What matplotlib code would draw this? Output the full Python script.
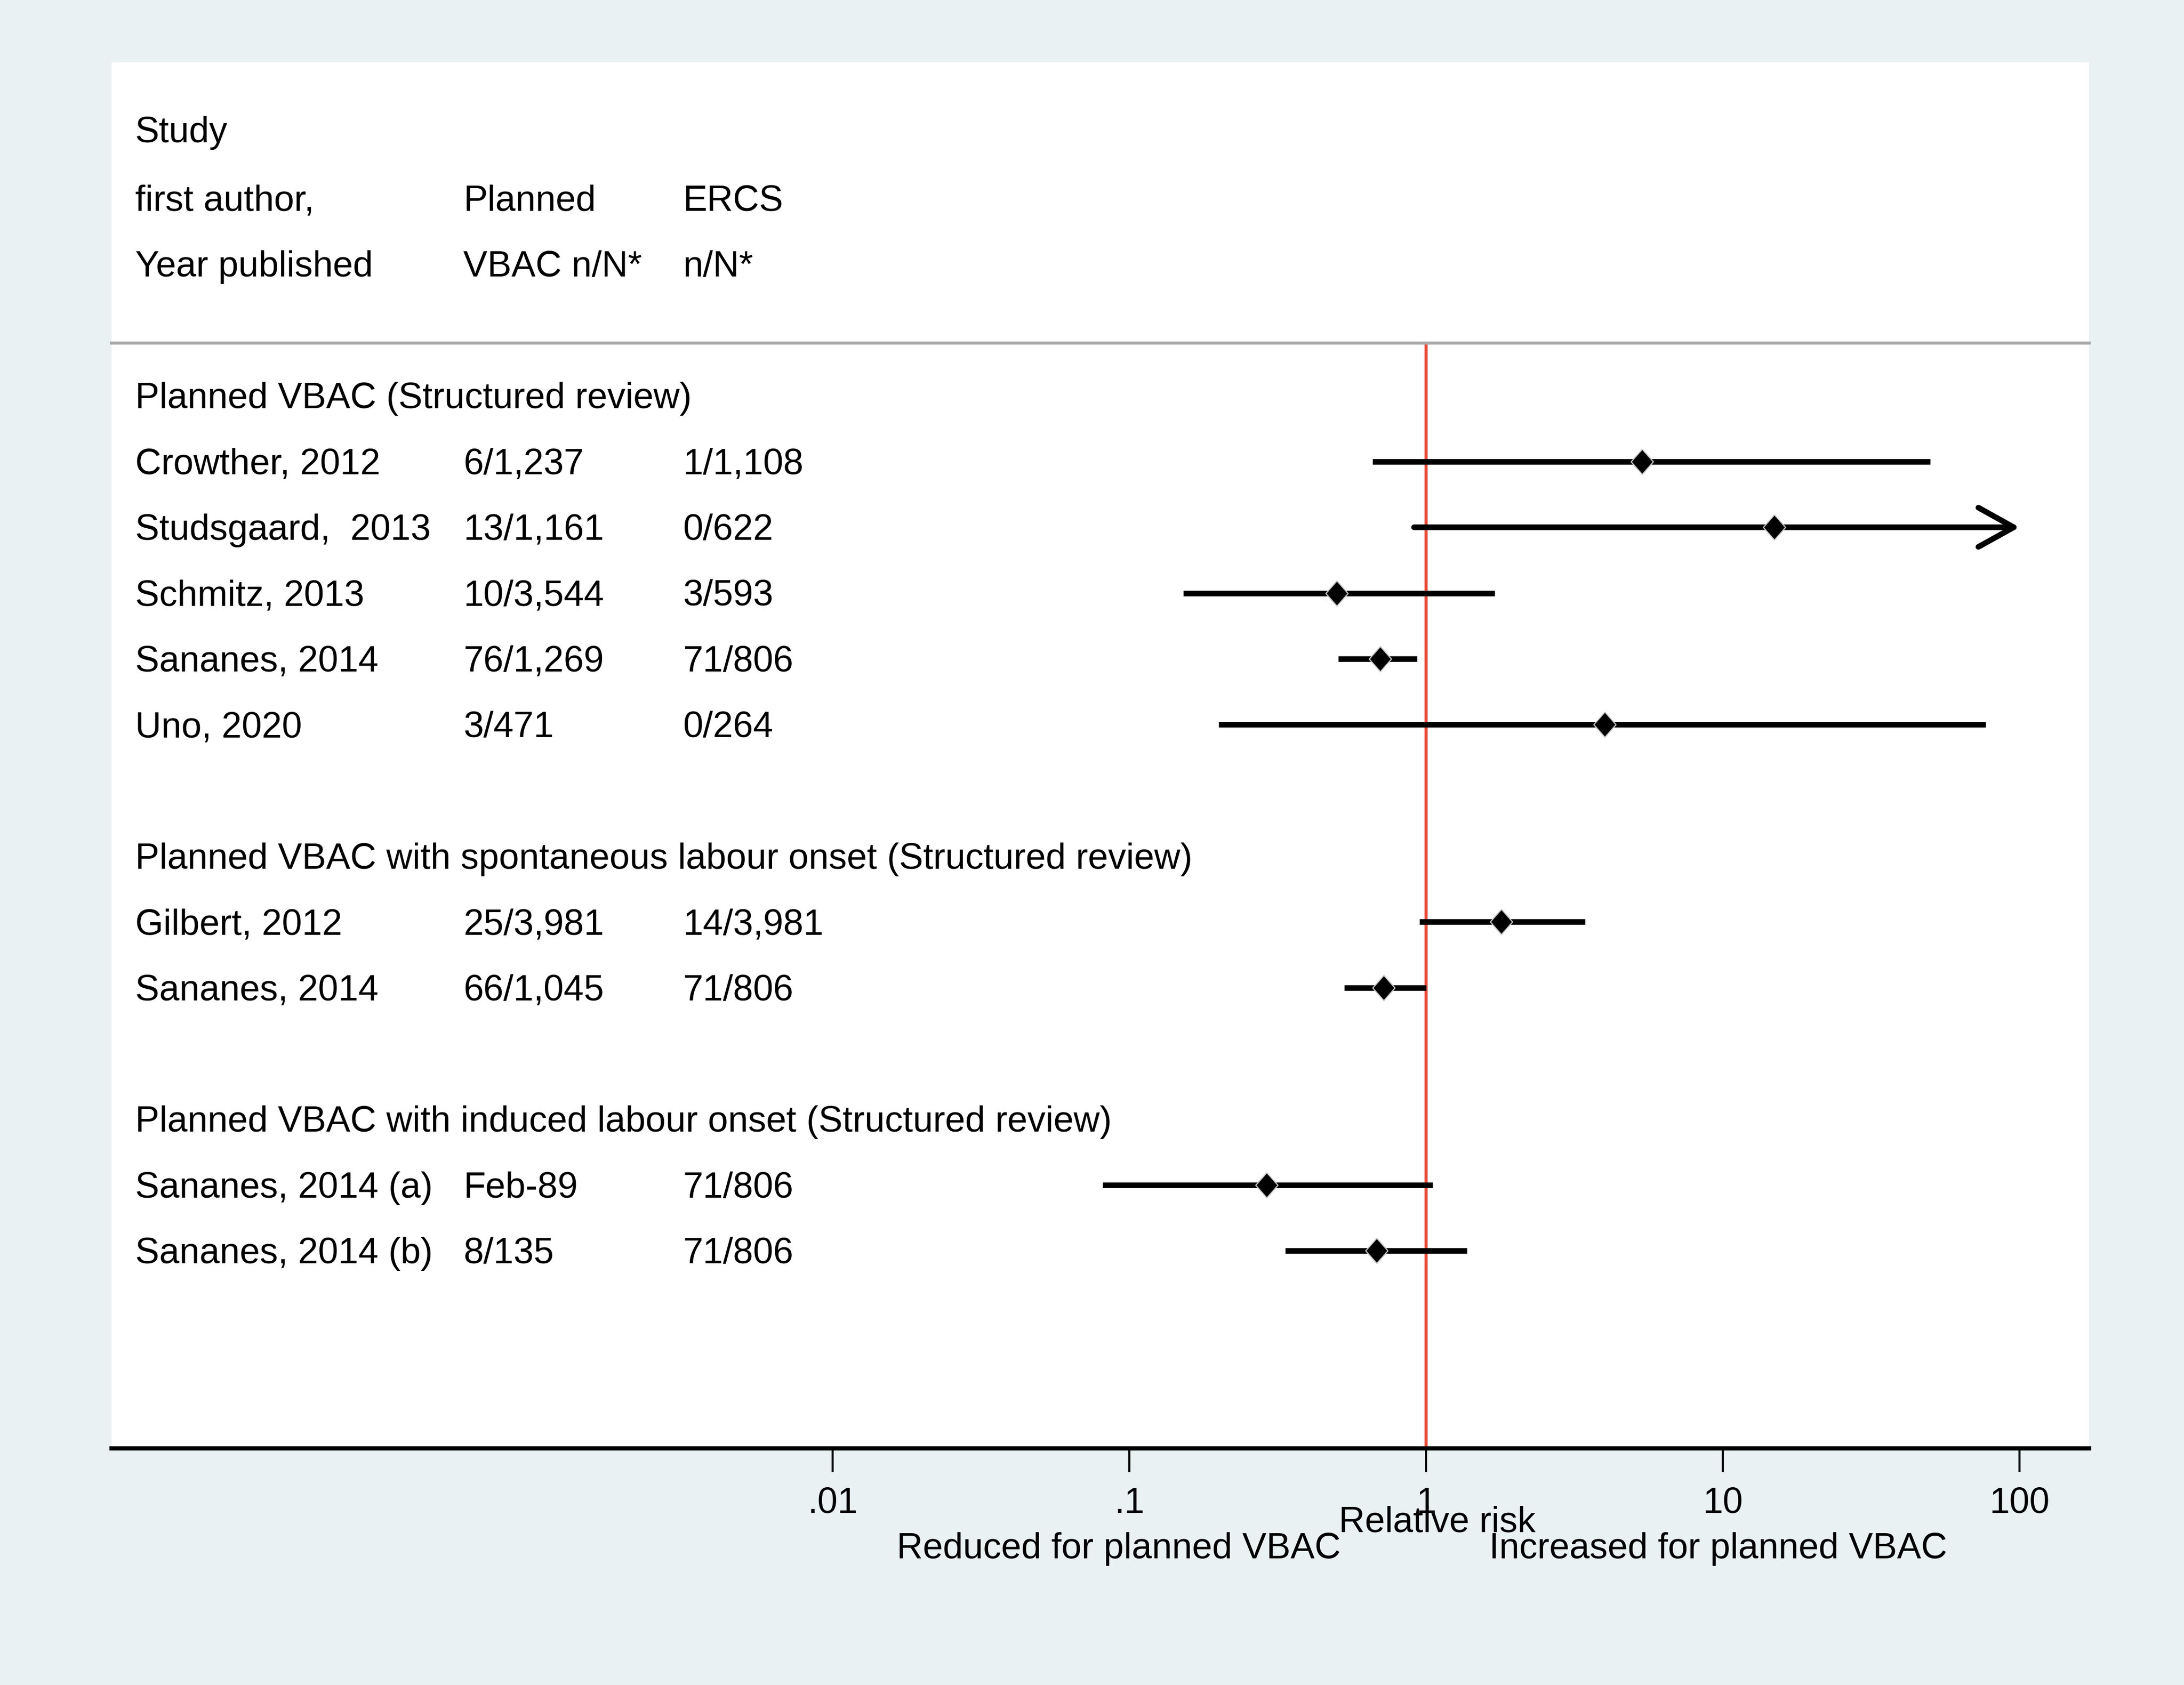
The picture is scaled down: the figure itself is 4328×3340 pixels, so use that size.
import matplotlib
matplotlib.use("Agg")
import matplotlib.pyplot as plt
import matplotlib.transforms as mtransforms

plt.rcParams['font.family'] = ['Liberation Sans', 'DejaVu Sans']

# study rows: label, planned VBAC n/N, ERCS n/N, RR, lower, upper
groups = [
    "Planned VBAC (Structured review)",
    "Planned VBAC with spontaneous labour onset (Structured review)",
    "Planned VBAC with induced labour onset (Structured review)",
]
group_of_study = [0, 0, 0, 0, 0, 1, 1, 2, 2]
studies = ["Crowther, 2012", "Studsgaard,  2013", "Schmitz, 2013", "Sananes, 2014",
           "Uno, 2020", "Gilbert, 2012", "Sananes, 2014", "Sananes, 2014 (a)",
           "Sananes, 2014 (b)"]
vbac = ["6/1,237", "13/1,161", "10/3,544", "76/1,269", "3/471",
        "25/3,981", "66/1,045", "Feb-89", "8/135"]
ercs = ["1/1,108", "0/622", "3/593", "71/806", "0/264",
        "14/3,981", "71/806", "71/806", "71/806"]
rr = [5.34, 14.9, 0.50, 0.70, 3.99, 1.79, 0.72, 0.29, 0.68]
lo = [0.66, 0.91, 0.152, 0.506, 0.20, 0.95, 0.53, 0.081, 0.335]
hi = [50.0, 250.0, 1.70, 0.93, 77.0, 3.43, 1.0, 1.05, 1.37]

ticks = [0.01, 0.1, 1, 10, 100]
tick_labels = [".01", ".1", "1", "10", "100"]

FS = 25.8
XMIN, XMAX = 10 ** -4.432, 10 ** 2.235

fig = plt.figure(figsize=(21.64, 16.705), dpi=200, facecolor='#e9f1f3')
ax = fig.add_axes([0.0510, 0.1405, 0.9056, 0.8223])
ax.set_facecolor('white')
ax.set_xscale('log')
ax.set_xlim(XMIN, XMAX)
ax.set_ylim(16, -5.07)

# row layout: group header, then its studies, blank row between groups
row_y = []
head_y = []
y = 0
for g in range(len(groups)):
    head_y.append(y)
    y += 1
    for i, gi in enumerate(group_of_study):
        if gi == g:
            row_y.append(y)
            y += 1
    y += 1

trans = mtransforms.blended_transform_factory(ax.transAxes, ax.transData)
col_x = [0.012, 0.178, 0.289]
row_shift = 0.04  # text sits a touch lower than the row centre

# column headers
ax.text(col_x[0], -4, "Study", transform=trans, fontsize=FS, va='center')
ax.text(col_x[0], -3 + row_shift, "first author,", transform=trans, fontsize=FS, va='center')
ax.text(col_x[0], -2 + row_shift, "Year published", transform=trans, fontsize=FS, va='center')
ax.text(col_x[1], -3 + row_shift, "Planned", transform=trans, fontsize=FS, va='center')
ax.text(col_x[1], -2 + row_shift, "VBAC n/N*", transform=trans, fontsize=FS, va='center')
ax.text(col_x[2], -3 + row_shift, "ERCS", transform=trans, fontsize=FS, va='center')
ax.text(col_x[2], -2 + row_shift, "n/N*", transform=trans, fontsize=FS, va='center')
ax.plot([0, 1], [-0.8, -0.8], transform=trans, color='#a8a8a8', lw=2.2,
        clip_on=False)

for g, yy in zip(groups, head_y):
    ax.text(col_x[0], yy + row_shift, g, transform=trans, fontsize=FS, va='center')

# null line
ax.plot([1, 1], [-0.8, 16], color='#e8442f', lw=2.2, zorder=1)

diamond = [(0, 1), (0.88, 0), (0, -1), (-0.88, 0), (0, 1)]
for i, yy in enumerate(row_y):
    ax.text(col_x[0], yy + row_shift, studies[i], transform=trans, fontsize=FS, va='center')
    ax.text(col_x[1], yy + row_shift, vbac[i], transform=trans, fontsize=FS, va='center')
    ax.text(col_x[2], yy + row_shift, ercs[i], transform=trans, fontsize=FS, va='center')
    if hi[i] > 100:
        ax.annotate("", xy=(100, yy), xytext=(lo[i], yy),
                    arrowprops=dict(arrowstyle='->,head_length=0.9,head_width=0.5',
                                    lw=4.0, color='black', shrinkA=0, shrinkB=0,
                                    mutation_scale=28))
    else:
        ax.plot([lo[i], hi[i]], [yy, yy], color='black', lw=4.0,
                solid_capstyle='butt', zorder=2)
    ax.plot(rr[i], yy, marker=diamond, markersize=18, color='black',
            markeredgecolor='#c8c8c8', markeredgewidth=0.8, zorder=3)

for s in ['top', 'left', 'right']:
    ax.spines[s].set_visible(False)
ax.spines['bottom'].set_linewidth(3)
ax.set_yticks([])
ax.set_xticks(ticks)
ax.set_xticklabels(tick_labels, fontsize=FS)
ax.minorticks_off()
ax.tick_params(axis='x', length=17, width=1.5, pad=10)

btrans = mtransforms.blended_transform_factory(ax.transData, ax.transAxes)
ax.annotate("Relative risk", xy=(1, 0), xycoords=btrans, xytext=(8, -52.7),
            textcoords='offset points', ha='center', va='center', fontsize=FS)
ax.annotate("Reduced for planned VBAC", xy=(1, 0), xycoords=btrans,
            xytext=(-61, -71.6), textcoords='offset points', ha='right',
            va='center', fontsize=FS)
ax.annotate("Increased for planned VBAC", xy=(1, 0), xycoords=btrans,
            xytext=(45, -71.6), textcoords='offset points', ha='left',
            va='center', fontsize=FS)

fig.savefig("out.png", dpi=200, facecolor=fig.get_facecolor())
